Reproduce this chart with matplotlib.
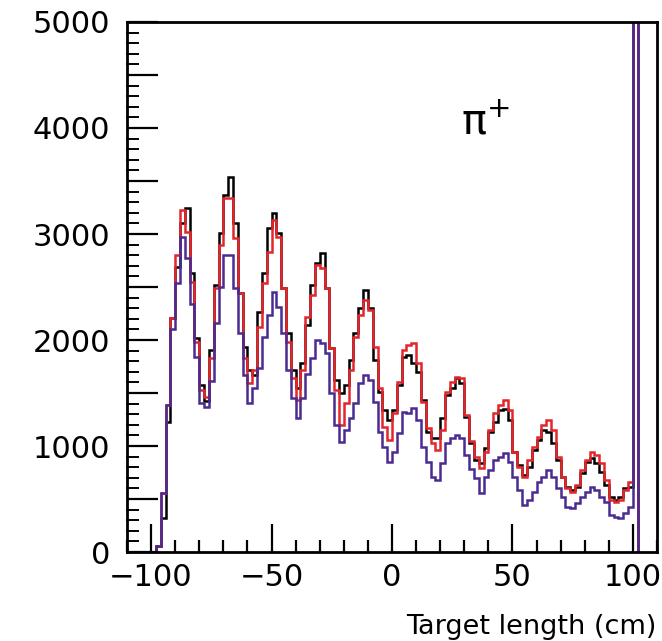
import matplotlib.pyplot as plt
import numpy as np

# 2 cm bins, left edges -100 .. 100 (last bin is the end-of-target spike)
edges = np.arange(-100, 104, 2)

black = [0, 60, 318, 1230, 2204, 2692, 3100, 3242, 2629, 2016,
         1575, 1420, 1906, 2519, 3006, 3368, 3541, 3101, 2440, 1937,
         1717, 1670, 2267, 2629, 3054, 3195, 3006, 2487, 2063, 1717,
         1544, 1780, 2142, 2518, 2723, 2823, 2487, 1921, 1622, 1496,
         1575, 1811, 2062, 2298, 2471, 2298, 1811, 1512, 1339, 1250,
         1339, 1575, 1843, 1858, 1780, 1701, 1434, 1135, 1072, 1072,
         1261, 1481, 1544, 1638, 1591, 1276, 1025, 868, 837, 978,
         1135, 1230, 1340, 1346, 1246, 947, 821, 727, 805, 962,
         1057, 1151, 1130, 1025, 868, 711, 616, 585, 616, 742,
         852, 884, 836, 758, 632, 522, 491, 522, 600, 616,
         6000]

red = [0, 60, 560, 1387, 2204, 2802, 3227, 3022, 2550, 1984,
       1528, 1460, 1827, 2487, 2896, 3337, 3337, 2959, 2440, 1827,
       1591, 1717, 2126, 2535, 2834, 3132, 2975, 2487, 1984, 1638,
       1434, 1717, 2220, 2424, 2707, 2676, 2487, 1921, 1528, 1198,
       1402, 1716, 2031, 2235, 2377, 2283, 1937, 1543, 1182, 1060,
       1308, 1607, 1905, 1953, 1968, 1780, 1418, 1166, 1025, 962,
       1150, 1512, 1607, 1654, 1638, 1292, 1050, 900, 790, 947,
       1151, 1309, 1387, 1434, 1340, 947, 805, 711, 868, 994,
       1088, 1198, 1250, 1151, 899, 711, 600, 569, 632, 774,
       868, 946, 915, 836, 679, 491, 475, 491, 585, 663,
       6000]

purple = [0, 60, 553, 1387, 2101, 2535, 2975, 2770, 2337, 1843,
          1402, 1371, 1616, 2157, 2503, 2802, 2802, 2487, 2063, 1670,
          1402, 1544, 1733, 2032, 2236, 2456, 2314, 2063, 1717, 1450,
          1261, 1450, 1680, 1826, 2000, 1968, 1874, 1496, 1198, 1040,
          1150, 1260, 1402, 1591, 1669, 1622, 1418, 1135, 993, 850,
          946, 1119, 1324, 1308, 1355, 1245, 993, 852, 710, 679,
          836, 1025, 1072, 1103, 1072, 915, 780, 695, 554, 711,
          774, 868, 900, 931, 852, 711, 585, 444, 491, 569,
          664, 711, 774, 711, 600, 522, 428, 412, 459, 522,
          569, 616, 585, 522, 475, 349, 333, 317, 365, 428,
          6000]

plt.rcParams['font.family'] = ['DejaVu Sans']

fig = plt.figure(figsize=(6.62, 6.41), dpi=100)
ax = fig.add_axes([0.1918, 0.1388, 0.8006, 0.8269])

ax.stairs(black, edges, color='black', lw=1.8)
ax.stairs(red, edges, color='#e3262b', lw=1.8)
ax.stairs(purple, edges, color='#4a2b91', lw=1.8)

ax.set_xlim(-110, 110)
ax.set_ylim(0, 5000)

ax.set_xticks([-100, -50, 0, 50, 100])
ax.set_xticks(np.arange(-110, 111, 10), minor=True)
ax.set_yticks(np.arange(0, 5001, 1000))
ax.set_yticks(np.arange(500, 5001, 1000), minor=True)

ax.tick_params(which='both', direction='in', top=False, right=False,
               labelsize=22, width=1.6)
ax.tick_params(axis='x', which='major', length=20, pad=8)
ax.tick_params(axis='x', which='minor', length=9)
ax.tick_params(axis='y', which='major', length=22, pad=12)
ax.tick_params(axis='y', which='minor', length=22)

# short y ticks every 100
for v in np.arange(100, 5000, 100):
    if v % 500:
        ax.plot([-110, -105.5], [v, v], color='black', lw=1.4,
                clip_on=False)

for s in ax.spines.values():
    s.set_linewidth(2)

ax.set_xlabel('Target length (cm)', fontsize=19.5, loc='right', labelpad=16)
ax.text(0.63, 0.79, r'$\mathregular{\pi^{+}}$', transform=ax.transAxes,
        fontsize=30)

fig.savefig('out.png', dpi=100)
